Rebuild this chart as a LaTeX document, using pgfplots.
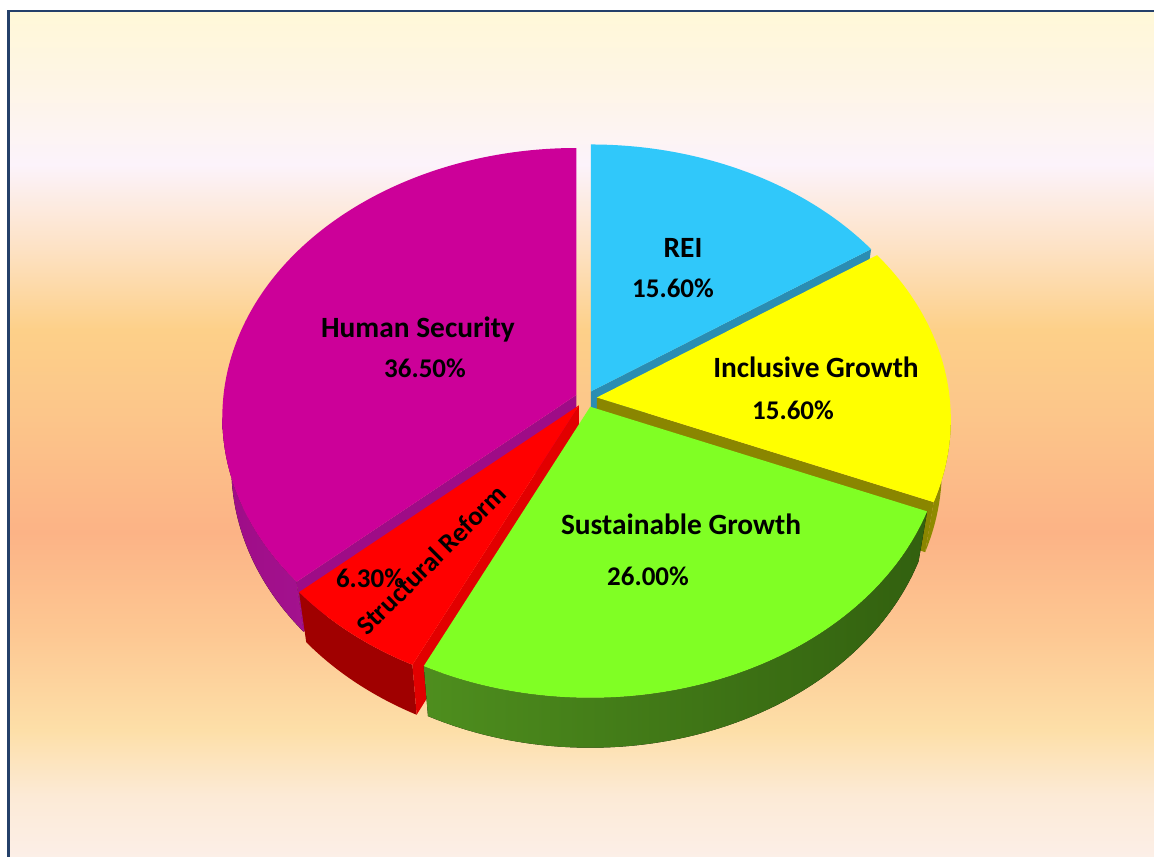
\documentclass[border=0pt]{standalone}
\usepackage{pgfplots}
\pgfplotsset{compat=1.18}
\usepackage{pgfplotstable}
\usepackage{fontspec}
\setmainfont{Carlito}

\definecolor{bg0}{HTML}{FCEFE8}
\definecolor{bg1}{HTML}{FCEAD6}
\definecolor{bg2}{HTML}{FDDFA8}
\definecolor{bg3}{HTML}{FDC792}
\definecolor{bg4}{HTML}{FCB386}
\definecolor{bg5}{HTML}{FCC68A}
\definecolor{bg6}{HTML}{FDD089}
\definecolor{bg7}{HTML}{FDE2C5}
\definecolor{bg8}{HTML}{FCF3FB}
\definecolor{bg9}{HTML}{FEF5E5}
\definecolor{bg10}{HTML}{FFF8D8}
\pgfdeclareverticalshading{bgshade}{100bp}{color(0bp)=(bg0); color(25bp)=(bg0); color(28.79bp)=(bg1); color(32.64bp)=(bg2); color(38.51bp)=(bg3); color(44.31bp)=(bg4); color(51.42bp)=(bg5); color(56.28bp)=(bg6); color(61.14bp)=(bg7); color(66bp)=(bg8); color(70.85bp)=(bg9); color(75bp)=(bg10); color(100bp)=(bg10)}

\definecolor{frame}{HTML}{24406A}
\definecolor{reiT}{HTML}{30C8FA}
\definecolor{reiS}{HTML}{2A8DB3}
\definecolor{igT}{HTML}{FFFF00}
\definecolor{igS}{HTML}{8A8600}
\definecolor{igW}{HTML}{8E8A00}
\definecolor{sgT}{HTML}{80FF24}
\definecolor{sgL}{HTML}{4E8E1E}
\definecolor{sgM}{HTML}{3A6B13}
\definecolor{sgR}{HTML}{32600F}
\definecolor{srT}{HTML}{FF0000}
\definecolor{srS}{HTML}{E20000}
\definecolor{srW}{HTML}{A00000}
\definecolor{hsT}{HTML}{CC0099}
\definecolor{hsS}{HTML}{9E0C87}
\definecolor{hsW}{HTML}{A3128E}

\pgfplotstableread[col sep=comma]{
label,value
REI,15.6
Inclusive Growth,15.6
Sustainable Growth,26.0
Structural Reform,6.3
Human Security,36.5
}\piedata

\pgfplotstablegetelem{0}{value}\of\piedata \let\vA\pgfplotsretval
\pgfplotstablegetelem{1}{value}\of\piedata \let\vB\pgfplotsretval
\pgfplotstablegetelem{2}{value}\of\piedata \let\vC\pgfplotsretval
\pgfplotstablegetelem{3}{value}\of\piedata \let\vD\pgfplotsretval
\pgfplotstablegetelem{4}{value}\of\piedata \let\vE\pgfplotsretval

% slice boundary angles (clockwise from 12 o'clock)
\pgfmathsetmacro\thA{90}
\pgfmathsetmacro\thB{\thA-3.6*\vA}
\pgfmathsetmacro\thC{\thB-3.6*\vB}
\pgfmathsetmacro\thD{\thC-3.6*\vC}
\pgfmathsetmacro\thE{\thD-3.6*\vD}
\pgfmathsetmacro\thF{\thE-3.6*\vE}

% perspective: projected centre lies above the ellipse centre
\def\kk{0.082}
\newcommand\proj[2]{%
  \pgfmathsetmacro\pS{(sin(#2)+\kk)/(1+\kk*sin(#2))}%
  \pgfmathsetmacro\pC{cos(#2)*sqrt(1-\kk*\kk)/(1+\kk*sin(#2))}%
  \pgfmathsetmacro#1{atan2(\pS,\pC)}}
\proj\phA{\thA}
\proj\phB{\thB}
\proj\phC{\thC}
\proj\phD{\thD}
\proj\phE{\thE}
\pgfmathsetmacro\phF{\phA-360}

% explosion offsets along the bisectors
\def\dd{11}
\pgfmathsetmacro\tmp{(\thA+\thB)/2}\proj\mA{\tmp}
\pgfmathsetmacro\tmp{(\thB+\thC)/2}\proj\mB{\tmp}
\pgfmathsetmacro\tmp{(\thC+\thD)/2}\proj\mC{\tmp}
\pgfmathsetmacro\tmp{(\thD+\thE)/2}\proj\mD{\tmp}
\pgfmathsetmacro\tmp{(\thE+\thF)/2}\proj\mE{\tmp}
\pgfmathsetmacro\exA{\dd*cos(\mA)}\pgfmathsetmacro\eyA{\dd*sin(\mA)*0.76}
\pgfmathsetmacro\exB{\dd*cos(\mB)}\pgfmathsetmacro\eyB{\dd*sin(\mB)*0.76}
\pgfmathsetmacro\exC{\dd*cos(\mC)}\pgfmathsetmacro\eyC{\dd*sin(\mC)*0.76}
\pgfmathsetmacro\exD{\dd*cos(\mD)}\pgfmathsetmacro\eyD{\dd*sin(\mD)*0.76}
\pgfmathsetmacro\exE{\dd*cos(\mE)}\pgfmathsetmacro\eyE{\dd*sin(\mE)*0.76}

% top ellipse: centre (586,435), apex (586,457), radii 354 x 269 (axis units = px)
% bottom ellipse: 50 lower, slightly narrower (345 x 269)
\newcommand\slicetop[5]{%
  \fill[#5] ({586+#1},{457+#2}) -- ({586+#1+354*cos(#3)},{435+#2+269*sin(#3)})
    arc[start angle=#3, end angle=#4, x radius=177pt, y radius=134.5pt] -- cycle;}
\newcommand\outerwall[5]{%
  \fill[#5] ({586+#1+354*cos(#3)},{435+#2+269*sin(#3)})
    arc[start angle=#3, end angle=#4, x radius=177pt, y radius=134.5pt]
    -- ({586+#1+345*cos(#4)},{385+#2+269*sin(#4)})
    arc[start angle=#4, end angle=#3, x radius=172.5pt, y radius=134.5pt] -- cycle;}
\newcommand\radwall[4]{%
  \fill[#4] ({586+#1},{457+#2}) -- ({586+#1+354*cos(#3)},{435+#2+269*sin(#3)})
    -- ({586+#1+345*cos(#3)},{385+#2+269*sin(#3)}) -- ({586+#1},{407+#2}) -- cycle;}

\begin{document}
\begin{tikzpicture}
\path[use as bounding box] (0,0) rectangle (577pt,428pt);
\begin{axis}[scale only axis, width=577pt, height=428pt,
  xmin=0, xmax=1154, ymin=0, ymax=856, hide axis, clip=false]
  \fill[white] (0,0) rectangle (1154,856);
  \shade[shading=bgshade] (9,-4) rectangle (1162,844);
  \draw[frame, line width=1.1pt] (8.5,-4) -- (8.5,845) -- (1162,845);

  % REI
  \radwall{\exA}{\eyA}{\phB}{reiS}
  \slicetop{\exA}{\eyA}{\phA}{\phB}{reiT}
  % Human Security
  \outerwall{\exE}{\eyE}{\phE}{-180}{left color=hsS, right color=hsW}
  \radwall{\exE}{\eyE}{\phE}{hsS}
  \slicetop{\exE}{\eyE}{\phE}{\phF}{hsT}
  % Inclusive Growth
  \outerwall{\exB}{\eyB}{0}{\phC}{igW}
  \radwall{\exB}{\eyB}{\phC}{igS}
  \slicetop{\exB}{\eyB}{\phB}{\phC}{igT}
  % Structural Reform
  \outerwall{\exD}{\eyD}{\phD}{\phE}{srW}
  \radwall{\exD}{\eyD}{\phD}{srS}
  \slicetop{\exD}{\eyD}{\phD}{\phE}{srT}
  % Sustainable Growth
  \outerwall{\exC}{\eyC}{\phC}{\phD}{left color=sgL, middle color=sgM, right color=sgR}
  \slicetop{\exC}{\eyC}{\phC}{\phD}{sgT}

  \begin{scope}[every node/.style={text=black, inner sep=0pt},
      nm/.style={font=\fontsize{14.7}{17}\selectfont\bfseries},
      pc/.style={font=\fontsize{13.5}{16}\selectfont\bfseries}]
  \node[nm] at (683,608) {REI};
  \node[pc] at (673,568) {15.60\%};
  \node[nm] at (816,489) {Inclusive Growth};
  \node[pc] at (793,446) {15.60\%};
  \node[nm] at (681,332) {Sustainable Growth};
  \node[pc] at (648,280) {26.00\%};
  \node[nm] at (418,526) {Human Security};
  \node[pc] at (425,488) {36.50\%};
  \node[pc] at (370,278) {6.30\%};
  \node[pc, rotate=45] at (431,296) {Structural Reform};
  \end{scope}
\end{axis}
\end{tikzpicture}
\end{document}
